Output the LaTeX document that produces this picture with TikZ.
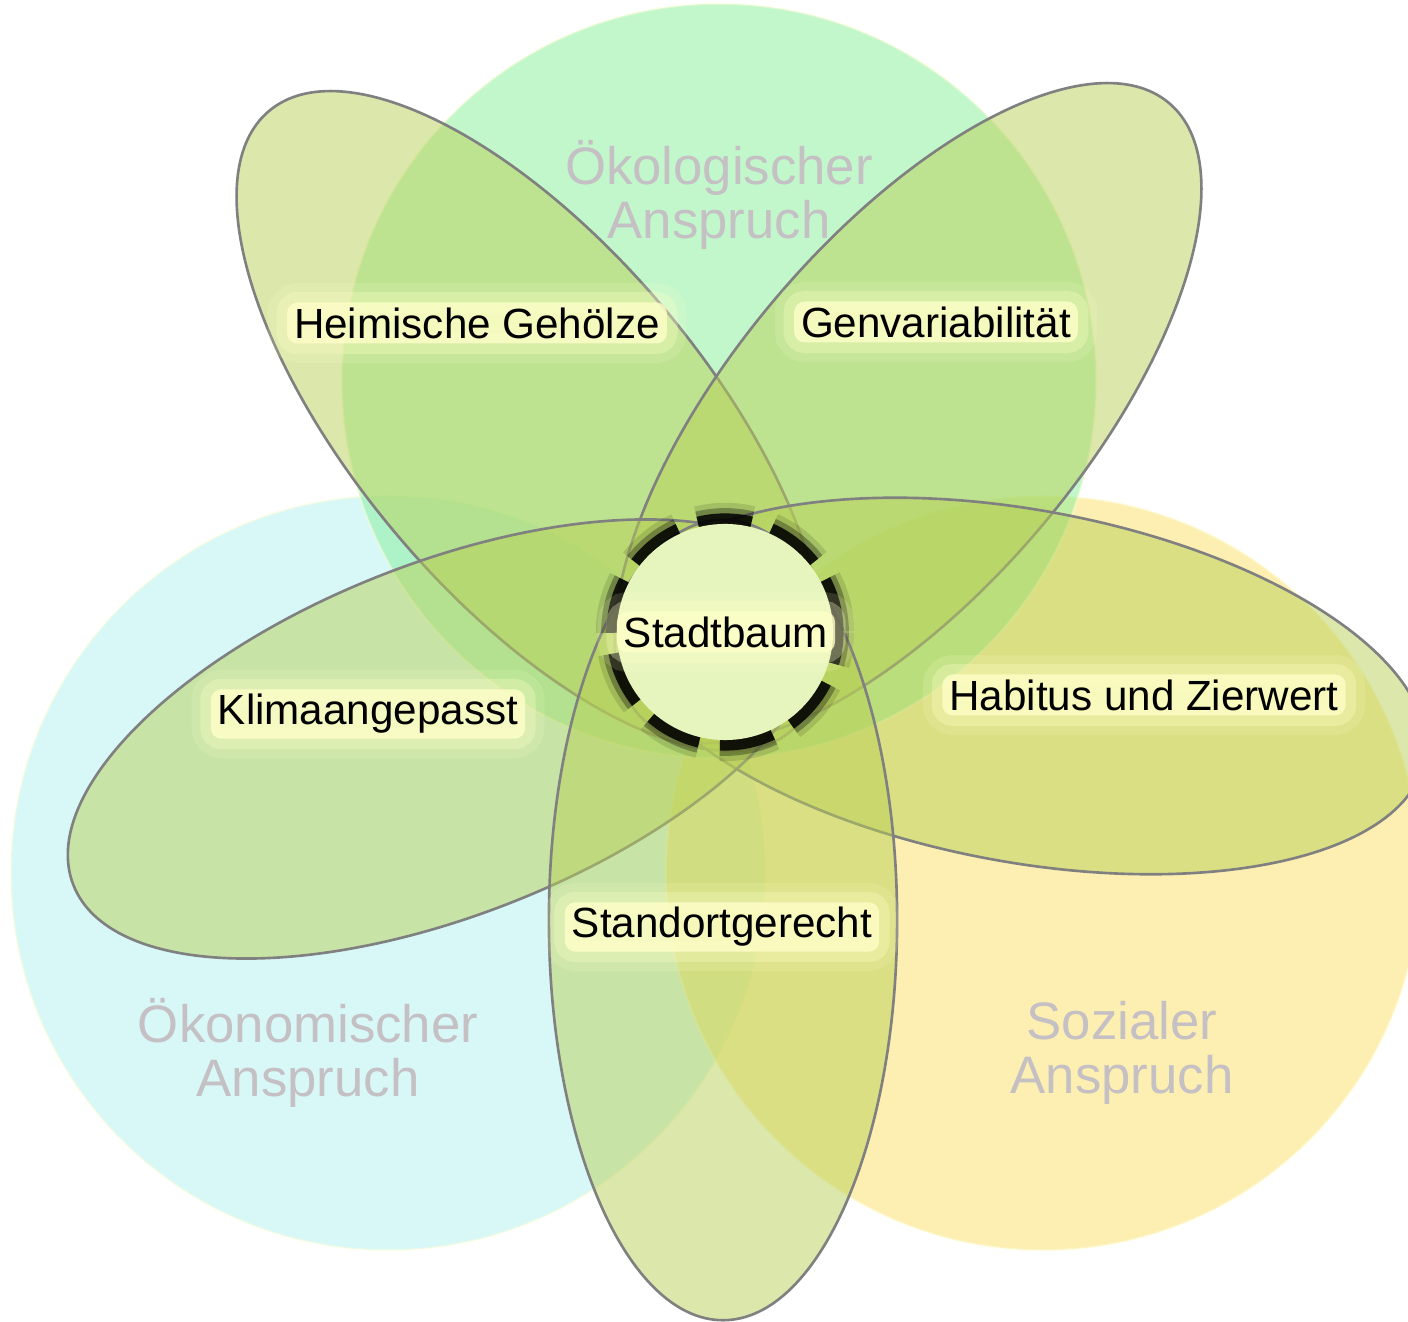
\documentclass[tikz,border=0pt]{standalone}
\usepackage{fontspec}
\setmainfont{Liberation Sans}
\usepackage{xcolor}
\usetikzlibrary{shapes.geometric}

\definecolor{oekogreen}{RGB}{133,239,153}
\definecolor{oekocyan}{RGB}{177,241,239}
\definecolor{oekoyellow}{RGB}{251,223,101}
\definecolor{petalgreen}{RGB}{184,208,87}
\definecolor{petalline}{RGB}{128,128,128}
\definecolor{glowyellow}{RGB}{255,255,200}
\definecolor{labelgray}{RGB}{196,192,196}
\definecolor{hubfill}{RGB}{230,245,190}

\begin{document}
\begin{tikzpicture}[
    x=0.01cm, y=-0.01cm,
    sphere/.style={circle, minimum size=7.54cm, inner sep=0pt, fill opacity=0.5, draw=white!85!yellow, draw opacity=0.45, line width=0.6pt},
    petal/.style={ellipse, inner sep=0pt, fill=petalgreen, fill opacity=0.5, draw=petalline, line width=0.75pt},
    glow/.style={fill=glowyellow, fill opacity=0.8, text opacity=1, rounded corners=3pt,
        inner xsep=0.07cm, inner ysep=0.05cm, font=\fontsize{12}{14}\selectfont,
        preaction={draw=glowyellow, line width=11pt, draw opacity=0.15},
        preaction={draw=glowyellow, line width=6pt, draw opacity=0.3}},
    claim/.style={text=labelgray, align=center, font=\fontsize{15}{15.4}\selectfont},
    hub/.style={circle, minimum size=2.16cm, inner sep=0pt, fill=hubfill,
        preaction={draw=black, line width=12pt, draw opacity=0.12, dash pattern=on 0.52cm off 0.2cm},
        preaction={draw=black, line width=9pt, draw opacity=0.3, dash pattern=on 0.52cm off 0.2cm},
        preaction={draw=black, line width=6pt, draw opacity=0.85, dash pattern=on 0.52cm off 0.2cm}}
]
\useasboundingbox (0,0) rectangle (1408,1322);

% Three claims
\node[sphere, fill=oekocyan] (okon) at (388,873) {};
\node[sphere, fill=oekoyellow] (soz) at (1043,873) {};
\node[sphere, fill=oekogreen] (oek) at (719,381) {};

% Petals
\node[petal, minimum width=8.1cm, minimum height=3.5cm, rotate=-49.9] (heim) at (530,421) {};
\node[petal, minimum width=8.1cm, minimum height=3.5cm, rotate=49.9] (gen) at (908,413) {};
\node[petal, minimum width=8.16cm, minimum height=3.52cm, rotate=-10.4] (hab) at (1023,686) {};
\node[petal, minimum width=8cm, minimum height=3.52cm, rotate=21.4] (klima) at (446,739) {};
\node[petal, minimum width=3.48cm, minimum height=8cm] (stand) at (723,920) {};

% Centre
\node[hub] (baum) at (725,632) {};

% Labels
\node[glow] (baumtxt) at (726,632) {Stadtbaum};
\node[glow] (heimtxt) at (477,323) {Heimische Gehölze};
\node[glow] (gentxt) at (936,322) {Genvariabilität};
\node[glow] (klimatxt) at (368,714) {Klimaangepasst};
\node[glow] (habtxt) at (1144,695) {Habitus und Zierwert};
\node[glow] (standtxt) at (722,927) {Standortgerecht};

\node[claim] (oektxt) at (719,195) {Ökologischer\\Anspruch};
\node[claim] (okontxt) at (308,1053) {Ökonomischer\\Anspruch};
\node[claim] (soztxt) at (1122,1053) {Sozialer\\Anspruch};

\end{tikzpicture}
\end{document}
